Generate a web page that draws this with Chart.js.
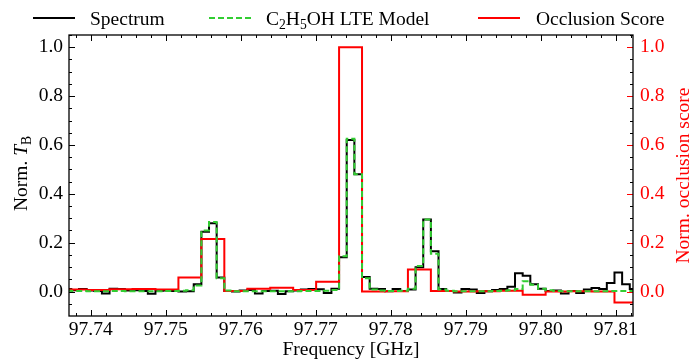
<!DOCTYPE html>
<html>
<head>
<meta charset="utf-8">
<script src="https://cdn.jsdelivr.net/npm/chart.js@4.4.1/dist/chart.umd.min.js"></script>
<style>
    html, body { margin: 0; padding: 0; background: #fff; }
    #wrap { width: 696px; height: 362px; }
</style>
</head>
<body>
<div id="wrap"><canvas id="chart" width="696" height="362"></canvas></div>
<script>
// channel centres [GHz]
const freqGHz = [
    97.73690, 97.73792, 97.73894, 97.73996, 97.74098, 97.74200, 97.74302, 97.74404, 97.74506, 97.74608,
    97.74710, 97.74812, 97.74914, 97.75016, 97.75118, 97.75220, 97.75322, 97.75424, 97.75526, 97.75628,
    97.75730, 97.75832, 97.75934, 97.76036, 97.76138, 97.76240, 97.76342, 97.76444, 97.76546, 97.76648,
    97.76750, 97.76852, 97.76954, 97.77056, 97.77158, 97.77260, 97.77362, 97.77464, 97.77566, 97.77668,
    97.77770, 97.77872, 97.77974, 97.78076, 97.78178, 97.78280, 97.78382, 97.78484, 97.78586, 97.78688,
    97.78790, 97.78892, 97.78994, 97.79096, 97.79198, 97.79300, 97.79402, 97.79504, 97.79606, 97.79708,
    97.79810, 97.79912, 97.80014, 97.80116, 97.80218, 97.80320, 97.80422, 97.80524, 97.80626, 97.80728,
    97.80830, 97.80932, 97.81034, 97.81136, 97.81238,
];

const spectrum = [
    0.010, 0.005, 0.010, 0.004, 0.002, -0.008, 0.012, 0.011, 0.004, 0.005,
    0.002, -0.009, 0.003, 0.004, 0.002, 0.000, 0.001, 0.030, 0.245, 0.280,
    0.058, 0.002, 0.000, 0.004, 0.006, -0.008, 0.002, 0.003, -0.010, 0.001,
    0.004, 0.008, 0.010, 0.009, -0.006, 0.012, 0.140, 0.620, 0.480, 0.060,
    0.012, 0.010, 0.001, 0.010, 0.002, 0.008, 0.100, 0.295, 0.165, 0.010,
    0.002, -0.004, 0.010, 0.008, -0.006, 0.001, 0.006, 0.010, 0.020, 0.075,
    0.065, 0.030, 0.012, 0.002, 0.004, -0.008, 0.002, -0.006, 0.008, 0.015,
    0.010, 0.035, 0.078, 0.030, 0.010,
];

const lteModel = [
    0.003, 0.002, 0.002, 0.001, 0.001, 0.001, 0.002, 0.002, 0.001, 0.001,
    0.001, 0.001, 0.001, 0.002, 0.002, 0.003, 0.005, 0.025, 0.250, 0.285,
    0.055, 0.004, 0.001, 0.001, 0.001, 0.001, 0.001, 0.001, 0.001, 0.001,
    0.001, 0.002, 0.002, 0.002, 0.003, 0.006, 0.145, 0.625, 0.480, 0.055,
    0.008, 0.004, 0.002, 0.002, 0.003, 0.012, 0.105, 0.295, 0.155, 0.008,
    0.003, 0.001, 0.001, 0.001, 0.001, 0.001, 0.002, 0.003, 0.005, 0.010,
    0.042, 0.028, 0.012, 0.005, 0.002, 0.001, 0.001, 0.001, 0.001, 0.001,
    0.001, 0.002, 0.002, 0.002, 0.002,
];

// occlusion score, 3-channel bins
const occlusion = [
    0.008, 0.008, 0.008, 0.006, 0.006, 0.006, 0.009, 0.009, 0.009, 0.010,
    0.010, 0.010, 0.008, 0.008, 0.008, 0.058, 0.058, 0.058, 0.215, 0.215,
    0.215, 0.002, 0.002, 0.002, 0.012, 0.012, 0.012, 0.016, 0.016, 0.016,
    0.006, 0.006, 0.006, 0.040, 0.040, 0.040, 1.000, 1.000, 1.000, 0.000,
    0.000, 0.000, 0.001, 0.001, 0.001, 0.090, 0.090, 0.090, 0.002, 0.002,
    0.002, 0.000, 0.000, 0.000, 0.001, 0.001, 0.001, 0.003, 0.003, 0.003,
    -0.013, -0.013, -0.013, 0.000, 0.000, 0.000, 0.001, 0.001, 0.001, 0.000,
    0.000, 0.000, -0.045, -0.045, -0.045,
];

const xTicks = [97.74, 97.75, 97.76, 97.77, 97.78, 97.79, 97.80, 97.81];
const yTicks = [0.0, 0.2, 0.4, 0.6, 0.8, 1.0];

const SERIF = '"Liberation Serif", "Times New Roman", serif';
const FS = 19.5;
const GREEN = '#32cd32';
const RED = '#ff0000';

const pts = ys => freqGHz.map((f, i) => ({ x: f, y: ys[i] }));

// draws a list of [text, style] pieces, style: '' | 'it' | 'sub'
function richText(ctx, parts, x, y, align) {
    const fontOf = s => (s === 'it' ? 'italic ' : '') + (s === 'sub' ? FS * 0.7 : FS) + 'px ' + SERIF;
    let total = 0;
    parts.forEach(([t, s]) => { ctx.font = fontOf(s); total += ctx.measureText(t).width; });
    let cx = align === 'center' ? x - total / 2 : x;
    ctx.textAlign = 'left';
    ctx.textBaseline = 'alphabetic';
    parts.forEach(([t, s]) => {
        ctx.font = fontOf(s);
        ctx.fillText(t, cx, s === 'sub' ? y + FS * 0.22 : y);
        cx += ctx.measureText(t).width;
    });
}

const legendItems = [
    { hx: 33, tx: 90, color: '#000', dash: [], parts: [['Spectrum', '']] },
    { hx: 209, tx: 266, color: GREEN, dash: [6, 3], parts: [['C', ''], ['2', 'sub'], ['H', ''], ['5', 'sub'], ['OH LTE Model', '']] },
    { hx: 478, tx: 536, color: RED, dash: [], parts: [['Occlusion Score', '']] },
];

const framePlugin = {
    id: 'frame',
    afterDatasetsDraw(chart) {
        const { ctx, chartArea: a, scales: { x, y } } = chart;
        ctx.save();
        ctx.lineWidth = 1;
        ctx.strokeStyle = '#000';
        // x ticks, bottom and top, pointing in
        for (let i = 0; ; i++) {
            const v = 97.738 + i * 0.002;
            if (v > x.max) break;
            const major = Math.abs(v * 100 - Math.round(v * 100)) < 1e-6;
            const len = major ? 6 : 3;
            const px = Math.round(x.getPixelForValue(v)) + 0.5;
            ctx.beginPath();
            ctx.moveTo(px, a.bottom); ctx.lineTo(px, a.bottom - len);
            ctx.moveTo(px, a.top); ctx.lineTo(px, a.top + len);
            ctx.stroke();
        }
        // y ticks, left black, right black minor / red major
        for (let i = 0; ; i++) {
            const v = -0.05 + i * 0.05;
            if (v > y.max) break;
            const major = Math.abs(v * 5 - Math.round(v * 5)) < 1e-6;
            const len = major ? 6 : 3;
            const py = Math.round(y.getPixelForValue(v)) + 0.5;
            ctx.strokeStyle = '#000';
            ctx.beginPath();
            ctx.moveTo(a.left, py); ctx.lineTo(a.left + len, py);
            ctx.moveTo(a.right, py); ctx.lineTo(a.right - len, py);
            ctx.stroke();
            if (major) {
                ctx.strokeStyle = RED;
                ctx.beginPath();
                ctx.moveTo(a.right, py); ctx.lineTo(a.right - len, py);
                ctx.stroke();
            }
        }
        ctx.lineWidth = 1.3;
        ctx.strokeStyle = '#000';
        ctx.strokeRect(a.left, a.top, a.right - a.left, a.bottom - a.top);
        ctx.restore();
    },
    afterDraw(chart) {
        const { ctx, chartArea: a } = chart;
        const midY = (a.top + a.bottom) / 2;
        ctx.save();
        // legend
        legendItems.forEach(it => {
            ctx.strokeStyle = it.color;
            ctx.lineWidth = 2;
            ctx.setLineDash(it.dash);
            ctx.beginPath();
            ctx.moveTo(it.hx, 18); ctx.lineTo(it.hx + 42, 18);
            ctx.stroke();
            ctx.setLineDash([]);
            ctx.fillStyle = '#000';
            richText(ctx, it.parts, it.tx, 24.5, 'left');
        });
        // left axis title
        ctx.save();
        ctx.translate(27, midY - 2);
        ctx.rotate(-Math.PI / 2);
        ctx.fillStyle = '#000';
        richText(ctx, [['Norm. ', ''], ['T', 'it'], ['B', 'sub']], 0, 0, 'center');
        ctx.restore();
        // right axis title
        ctx.save();
        ctx.translate(689, midY);
        ctx.rotate(-Math.PI / 2);
        ctx.fillStyle = RED;
        richText(ctx, [['Norm. occlusion score', '']], 0, 0, 'center');
        ctx.restore();
        ctx.restore();
    },
};

const tickFont = { family: SERIF, size: FS };

new Chart(document.getElementById('chart'), {
    type: 'line',
    data: {
        datasets: [
            { label: 'Spectrum', data: pts(spectrum), borderColor: '#000', borderWidth: 2, stepped: 'middle', pointRadius: 0, yAxisID: 'y', order: 3 },
            { label: 'C2H5OH LTE Model', data: pts(lteModel), borderColor: GREEN, borderWidth: 2, borderDash: [6, 3], stepped: 'middle', pointRadius: 0, yAxisID: 'y', order: 1 },
            { label: 'Occlusion Score', data: pts(occlusion), borderColor: RED, borderWidth: 2, stepped: 'middle', pointRadius: 0, yAxisID: 'y1', order: 2 },
        ],
    },
    options: {
        responsive: false,
        animation: false,
        layout: { padding: { top: 35, left: 0, right: 0, bottom: 0 } },
        plugins: { legend: { display: false }, tooltip: { enabled: false } },
        scales: {
            x: {
                type: 'linear', min: 97.7371, max: 97.8123,
                afterFit: s => { s.height = 46; },
                afterBuildTicks: s => { s.ticks = xTicks.map(v => ({ value: v })); },
                grid: { display: false, drawTicks: false },
                border: { display: false },
                ticks: { callback: v => v.toFixed(2), font: tickFont, color: '#000', padding: 2, maxRotation: 0, autoSkip: false },
                title: { display: true, text: 'Frequency [GHz]', font: tickFont, color: '#000', padding: { top: 0, bottom: 0 } },
            },
            y: {
                position: 'left', min: -0.1, max: 1.05,
                afterFit: s => { s.width = 69; },
                afterBuildTicks: s => { s.ticks = yTicks.map(v => ({ value: v })); },
                grid: { display: false, drawTicks: false },
                border: { display: false },
                ticks: { callback: v => v.toFixed(1), font: tickFont, color: '#000', padding: 6 },
            },
            y1: {
                position: 'right', min: -0.1, max: 1.05,
                afterFit: s => { s.width = 63; },
                afterBuildTicks: s => { s.ticks = yTicks.map(v => ({ value: v })); },
                grid: { display: false, drawTicks: false },
                border: { display: false },
                ticks: { callback: v => v.toFixed(1), font: tickFont, color: RED, padding: 7 },
            },
        },
    },
    plugins: [framePlugin],
});
</script>
</body>
</html>
